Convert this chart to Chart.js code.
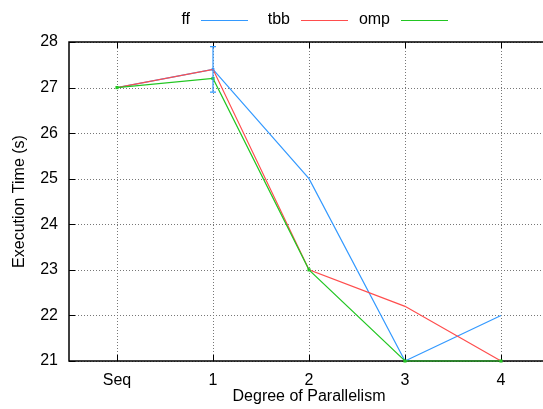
<!DOCTYPE html>
<html>
<head>
<meta charset="utf-8">
<script src="https://cdn.jsdelivr.net/npm/chart.js@4.4.3/dist/chart.umd.min.js"></script>
<style>
  html, body { margin: 0; padding: 0; background: #fff; overflow: hidden; }
  #wrap { width: 560px; height: 409px; }
</style>
</head>
<body>
<div id="wrap"><canvas id="chart"></canvas></div>
<script>
// data
const categories = ["Seq", "1", "2", "3", "4"];
const ffTimes = [27, 27.4, 25, 21, 22];
const ffErr = [0, 0.5, 0, 0, 0];
const tbbTimes = [27, 27.4, 23, 22.2, 21];
const ompTimes = [27, 27.2, 23, 21, 21];
const yTicks = [21, 22, 23, 24, 25, 26, 27, 28];

const FONT = "'Liberation Sans', Arial, sans-serif";
const colors = { ff: "#3399ff", tbb: "#ff4d4d", omp: "#22c622" };

// gnuplot-ish frame: dotted grid, full border, mirrored inward ticks
const framePlugin = {
  id: "frame",
  beforeDatasetsDraw(chart) {
    const { ctx, chartArea: a, scales } = chart;
    ctx.save();
    // dotted grid
    ctx.strokeStyle = "#777";
    ctx.lineWidth = 1;
    ctx.setLineDash([1, 2]);
    ctx.beginPath();
    scales.y.ticks.forEach((t) => {
      const y = Math.round(scales.y.getPixelForValue(t.value)) + 0.5;
      ctx.moveTo(a.left, y); ctx.lineTo(a.right, y);
    });
    categories.forEach((c, i) => {
      const x = Math.round(scales.x.getPixelForValue(i)) + 0.5;
      ctx.moveTo(x, a.top); ctx.lineTo(x, a.bottom);
    });
    ctx.stroke();
    ctx.setLineDash([]);
    // tick marks
    ctx.strokeStyle = "#000";
    ctx.beginPath();
    scales.y.ticks.forEach((t) => {
      const y = Math.round(scales.y.getPixelForValue(t.value)) + 0.5;
      ctx.moveTo(a.left, y); ctx.lineTo(a.left + 6, y);
      ctx.moveTo(a.right, y); ctx.lineTo(a.right - 6, y);
    });
    categories.forEach((c, i) => {
      const x = Math.round(scales.x.getPixelForValue(i)) + 0.5;
      ctx.moveTo(x, a.top); ctx.lineTo(x, a.top + 6);
      ctx.moveTo(x, a.bottom); ctx.lineTo(x, a.bottom - 6);
    });
    ctx.stroke();
    ctx.lineWidth = 1.5;
    ctx.strokeRect(a.left, a.top, a.right - a.left, a.bottom - a.top);
    ctx.restore();
  },
  afterDatasetsDraw(chart) {
    // error bars for ff
    const { ctx, scales } = chart;
    ctx.save();
    ctx.strokeStyle = colors.ff;
    ctx.lineWidth = 1.2;
    ffTimes.forEach((v, i) => {
      if (!ffErr[i]) return;
      const x = scales.x.getPixelForValue(i);
      const y0 = scales.y.getPixelForValue(v - ffErr[i]);
      const y1 = scales.y.getPixelForValue(v + ffErr[i]);
      ctx.beginPath();
      ctx.moveTo(x, y0); ctx.lineTo(x, y1);
      ctx.moveTo(x - 3, y0); ctx.lineTo(x + 3, y0);
      ctx.moveTo(x - 3, y1); ctx.lineTo(x + 3, y1);
      ctx.stroke();
    });
    ctx.restore();
  },
  afterDraw(chart) {
    // key at the top: label then line sample
    const { ctx } = chart;
    const entries = [["ff", colors.ff], ["tbb", colors.tbb], ["omp", colors.omp]];
    ctx.save();
    ctx.font = "16px " + FONT;
    ctx.textBaseline = "middle";
    ctx.textAlign = "right";
    entries.forEach(([label, col], i) => {
      const x = 190 + i * 100;
      ctx.fillStyle = "#000";
      ctx.fillText(label, x, 20);
      ctx.strokeStyle = col;
      ctx.lineWidth = 1;
      ctx.beginPath();
      ctx.moveTo(x + 11, 20.5); ctx.lineTo(x + 58, 20.5);
      ctx.stroke();
    });
    ctx.restore();
  },
};

function series(label, data, color, order, radius) {
  return {
    label,
    data,
    borderColor: color,
    backgroundColor: color,
    borderWidth: 1.2,
    pointStyle: "rect",
    pointRadius: radius,
    pointBorderWidth: 0,
    tension: 0,
    clip: false,
    order,
  };
}

const hiddenGrid = { display: true, drawOnChartArea: false, drawTicks: false };

new Chart(document.getElementById("chart").getContext("2d"), {
  type: "line",
  data: {
    labels: categories,
    datasets: [
      series("ff", ffTimes, colors.ff, 3, [0, 2, 0, 0, 0]),
      series("tbb", tbbTimes, colors.tbb, 2, 0),
      series("omp", ompTimes, colors.omp, 1, 2.2),
    ],
  },
  options: {
    responsive: true,
    maintainAspectRatio: false,
    animation: false,
    layout: { padding: { top: 42, left: 0, right: 11, bottom: 0 } },
    plugins: { legend: { display: false }, tooltip: { enabled: false } },
    scales: {
      x: {
        offset: true,
        grid: hiddenGrid,
        border: { display: false },
        ticks: { color: "#000", font: { family: FONT, size: 16 }, padding: 10 },
        title: {
          display: true,
          text: "Degree of Parallelism",
          color: "#000",
          font: { family: FONT, size: 16 },
          padding: { top: 0, bottom: 3 },
        },
        afterFit(s) { s.height = 48; },
      },
      y: {
        min: 21,
        max: 28,
        afterBuildTicks(s) { s.ticks = yTicks.map((v) => ({ value: v })); },
        grid: hiddenGrid,
        border: { display: false },
        ticks: { color: "#000", font: { family: FONT, size: 16 }, padding: 11 },
        title: {
          display: true,
          text: "Execution Time (s)",
          color: "#000",
          font: { family: FONT, size: 16 },
          padding: { top: 10, bottom: 0 },
        },
        afterFit(s) { s.width = 69; },
      },
    },
  },
  plugins: [framePlugin],
});
</script>
</body>
</html>
